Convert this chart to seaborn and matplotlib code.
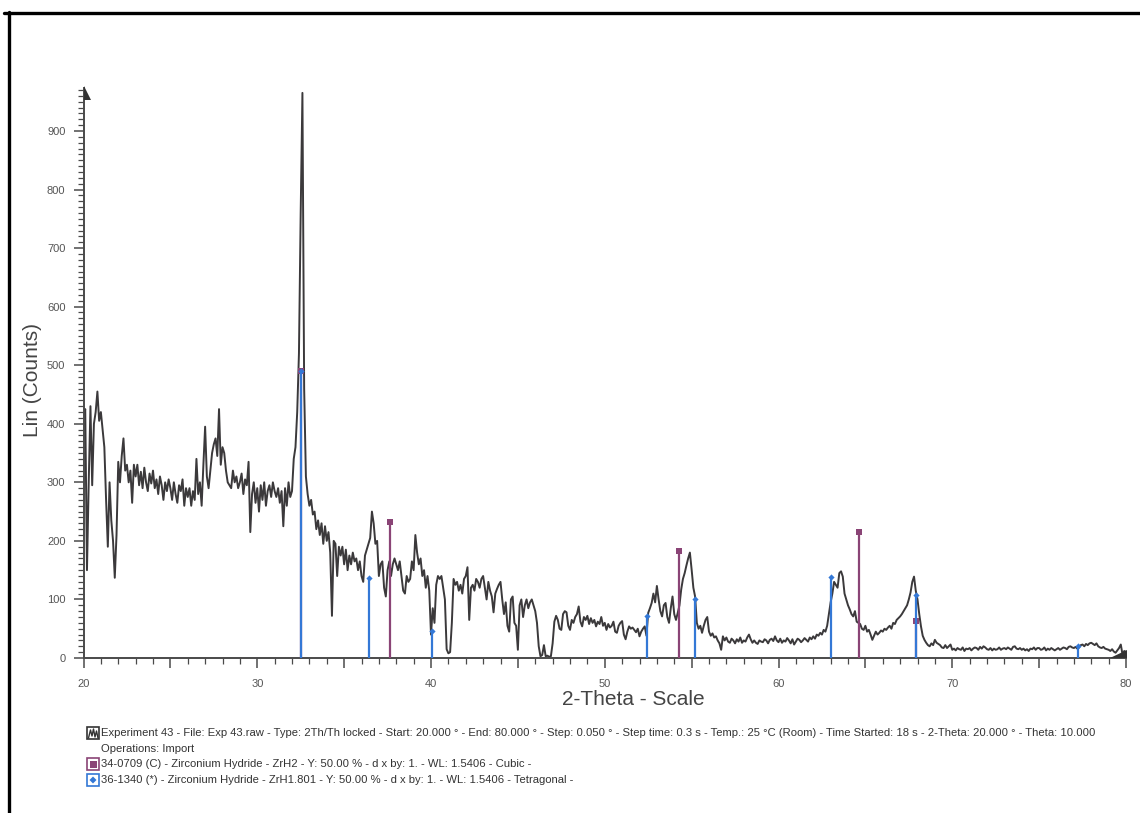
import numpy as np
import pandas as pd
import matplotlib
matplotlib.use("Agg")
import matplotlib.pyplot as plt
from matplotlib.patches import Polygon, Rectangle
from matplotlib.lines import Line2D
from matplotlib.ticker import MultipleLocator, FuncFormatter
import seaborn as sns

# Diffractogram: 2-theta from 20 to 80 degrees, 0.1 degree spacing
two_theta_start = 20.0
two_theta_step = 0.1
counts = [
    410, 425, 150, 300, 430, 295, 400, 420, 455, 405,   # 20
    420, 390, 360, 270, 190, 300, 235, 200, 137, 210,   # 21
    335, 300, 345, 375, 320, 330, 300, 320, 265, 330,   # 22
    310, 330, 295, 318, 290, 325, 300, 285, 315, 298,   # 23
    320, 290, 305, 280, 310, 295, 270, 300, 285, 305,   # 24
    290, 270, 300, 280, 265, 295, 285, 305, 260, 290,   # 25
    275, 290, 260, 285, 270, 340, 280, 300, 260, 330,   # 26
    395, 310, 290, 320, 350, 365, 375, 345, 425, 330,   # 27
    360, 350, 320, 300, 295, 290, 320, 300, 310, 290,   # 28
    300, 315, 280, 305, 295, 335, 215, 280, 300, 265,   # 29
    290, 250, 295, 270, 300, 260, 285, 295, 275, 300,   # 30
    285, 275, 290, 265, 285, 225, 290, 260, 300, 275,   # 31
    285, 340, 360, 420, 520, 760, 965, 460, 310, 280,   # 32
    260, 270, 245, 250, 220, 235, 210, 230, 195, 225,   # 33
    200, 215, 180, 72, 200, 195, 140, 190, 175, 190,    # 34
    160, 185, 150, 175, 160, 180, 165, 170, 150, 165,   # 35
    140, 130, 175, 185, 195, 205, 250, 230, 195, 200,   # 36
    140, 160, 165, 120, 105, 150, 165, 140, 160, 170,   # 37
    160, 150, 165, 140, 115, 110, 140, 130, 135, 165,   # 38
    150, 210, 180, 160, 170, 140, 150, 120, 140, 115,   # 39
    40, 85, 60, 125, 140, 135, 140, 120, 100, 15,       # 40
    8, 10, 60, 135, 125, 130, 115, 125, 110, 135,       # 41
    140, 155, 65, 120, 125, 115, 135, 130, 120, 135,    # 42
    140, 120, 100, 130, 115, 105, 78, 110, 118, 125,    # 43
    130, 100, 75, 95, 55, 45, 100, 105, 60, 55,         # 44
    14, 90, 100, 70, 90, 100, 85, 95, 100, 90,          # 45
    80, 60, 20, 3, 5, 22, 3, 4, 2, 3,                   # 46
    25, 62, 72, 65, 50, 48, 75, 80, 78, 55,             # 47
    48, 65, 60, 70, 75, 88, 62, 54, 70, 65,             # 48
    72, 58, 68, 60, 65, 54, 62, 58, 70, 55,             # 49
    60, 48, 58, 52, 55, 62, 45, 43, 55, 60,             # 50
    63, 40, 32, 45, 54, 50, 52, 48, 44, 50,             # 51
    37, 45, 50, 54, 38, 77, 85, 94, 110, 95,            # 52
    123, 100, 80, 71, 90, 94, 70, 60, 85, 105,          # 53
    75, 65, 77, 90, 117, 135, 145, 158, 170, 180,       # 54
    151, 120, 105, 60, 50, 55, 43, 55, 65, 70,          # 55
    45, 38, 42, 35, 37, 30, 25, 14, 37, 30,             # 56
    35, 28, 26, 33, 30, 25, 32, 28, 35, 26,             # 57
    30, 28, 35, 40, 32, 26, 30, 26, 24, 30,             # 58
    28, 27, 32, 30, 25, 31, 33, 29, 37, 30,             # 59
    27, 33, 26, 30, 28, 34, 30, 25, 32, 23,             # 60
    28, 33, 31, 27, 30, 34, 31, 28, 35, 32,             # 61
    37, 33, 40, 38, 43, 40, 48, 45, 55, 75,             # 62
    95, 110, 130, 125, 120, 145, 148, 139, 110, 100,    # 63
    90, 83, 75, 71, 80, 62, 60, 58, 50, 48,             # 64
    55, 45, 48, 40, 31, 38, 45, 40, 43, 47,             # 65
    45, 50, 48, 52, 55, 50, 60, 58, 65, 68,             # 66
    71, 75, 80, 85, 90, 100, 112, 130, 139, 115,        # 67
    100, 75, 54, 38, 31, 26, 22, 20, 25, 22,            # 68
    31, 26, 24, 22, 18, 17, 22, 17, 20, 23,             # 69
    14, 16, 13, 17, 15, 14, 18, 12, 16, 15,             # 70
    17, 13, 16, 18, 17, 14, 19, 16, 20, 18,             # 71
    15, 14, 17, 13, 16, 14, 15, 18, 14, 16,             # 72
    17, 15, 18, 16, 14, 19, 20, 16, 15, 17,             # 73
    14, 16, 13, 15, 12, 16, 15, 18, 14, 17,             # 74
    17, 14, 15, 18, 13, 16, 14, 17, 15, 13,             # 75
    15, 17, 14, 16, 18, 17, 15, 19, 20, 18,             # 76
    17, 19, 16, 18, 22, 23, 20, 24, 22, 25,             # 77
    26, 24, 22, 25, 20, 18, 17, 19, 16, 15,             # 78
    14, 12, 15, 11, 9, 13, 17, 23, 6, 12,               # 79
    10,                                                 # 80
]

# Reference pattern 34-0709, ZrH2 (cubic)
zrh2_two_theta = [32.50, 37.64, 54.26, 64.64, 67.90]
zrh2_intensity = [490, 232, 182, 215, 64]

# Reference pattern 36-1340, ZrH1.801 (tetragonal)
zrh1801_two_theta = [32.52, 36.43, 40.06, 52.42, 55.20, 63.00, 67.92, 77.22]
zrh1801_intensity = [490, 136, 46, 71, 100, 138, 108, 21]

x_ticks_labelled = [20, 30, 40, 50, 60, 70, 80]

legend_lines = [
    "Experiment 43 - File: Exp 43.raw - Type: 2Th/Th locked - Start: 20.000 \u00b0 - End: 80.000 \u00b0 - "
    "Step: 0.050 \u00b0 - Step time: 0.3 s - Temp.: 25 \u00b0C (Room) - Time Started: 18 s - "
    "2-Theta: 20.000 \u00b0 - Theta: 10.000",
    "Operations: Import",
    "34-0709 (C) - Zirconium Hydride - ZrH2 - Y: 50.00 % - d x by: 1. - WL: 1.5406 - Cubic -",
    "36-1340 (*) - Zirconium Hydride - ZrH1.801 - Y: 50.00 % - d x by: 1. - WL: 1.5406 - Tetragonal -",
]

PURPLE = "#8a4476"
BLUE = "#3478d6"
TRACE = "#3b393b"
AXIS = "#4a4a4a"

sns.set_style("ticks")
plt.rcParams["font.family"] = ["Liberation Sans", "DejaVu Sans"]

W, H = 1140, 813
fig = plt.figure(figsize=(W / 100, H / 100), dpi=100)
fig.patch.set_facecolor("white")


def px(x, y):
    """Pixel position (from top-left) to figure fraction."""
    return x / W, 1 - y / H


ax_left, ax_right, ax_bottom, ax_top = 83.5, 1126, 658, 88
ax = fig.add_axes([ax_left / W, 1 - ax_bottom / H,
                   (ax_right - ax_left) / W, (ax_bottom - ax_top) / H])
ax.set_facecolor("white")

two_theta = np.round(two_theta_start + two_theta_step * np.arange(len(counts)), 2)
df = pd.DataFrame({"two_theta": two_theta, "counts": counts})

sns.lineplot(data=df, x="two_theta", y="counts", ax=ax, color=TRACE,
             linewidth=1.4, estimator=None, sort=False, zorder=2)

# Reference stick patterns
ax.vlines(zrh2_two_theta, 0, zrh2_intensity, color=PURPLE, linewidth=1.6, zorder=3)
sns.scatterplot(x=zrh2_two_theta, y=zrh2_intensity, ax=ax, color=PURPLE, marker="s",
                s=22, linewidth=0, zorder=4)
ax.vlines(zrh1801_two_theta, 0, zrh1801_intensity, color=BLUE, linewidth=1.6, zorder=5)
sns.scatterplot(x=zrh1801_two_theta, y=zrh1801_intensity, ax=ax, color=BLUE, marker="D",
                s=10, linewidth=0, zorder=6)

ax.set_xlim(20, 80)
ax.set_ylim(0, (ax_bottom - ax_top) / 0.5856)
ax.set_xlabel("")
ax.set_ylabel("")

for side in ("top", "right"):
    ax.spines[side].set_visible(False)
for side in ("left", "bottom"):
    ax.spines[side].set_color(AXIS)
    ax.spines[side].set_linewidth(1.4)

ax.xaxis.set_major_locator(MultipleLocator(5))
ax.xaxis.set_minor_locator(MultipleLocator(1))
ax.xaxis.set_major_formatter(FuncFormatter(
    lambda v, p: f"{int(round(v))}" if int(round(v)) in x_ticks_labelled else ""))
ax.yaxis.set_major_locator(MultipleLocator(100))
ax.yaxis.set_minor_locator(MultipleLocator(10))

ax.tick_params(axis="both", which="major", direction="out", length=7, width=1.1,
               color=AXIS, labelcolor="#555555", labelsize=8)
ax.tick_params(axis="both", which="minor", direction="out", length=4, width=0.9, color=AXIS)
ax.tick_params(axis="x", which="major", pad=8)
ax.tick_params(axis="y", which="major", pad=6)

# Arrow heads at the axis ends
fig.add_artist(Polygon([px(83.5, 86), px(83.5, 100), px(91, 100)], closed=True,
                       transform=fig.transFigure, facecolor="#333333", edgecolor="none"))
fig.add_artist(Polygon([px(1110, 658), px(1127, 658), px(1127, 650)], closed=True,
                       transform=fig.transFigure, facecolor="#333333", edgecolor="none"))

# Axis titles
fig.text(*px(33, 380), "Lin (Counts)", rotation=90, ha="center", va="center",
         fontsize=15, color="#444444")
fig.text(*px(633, 699), "2-Theta - Scale", ha="center", va="center",
         fontsize=15, color="#444444")

# Page frame
fig.add_artist(Line2D([px(4, 0)[0], 1], [px(0, 13)[1]] * 2, color="black", lw=2.4,
                      transform=fig.transFigure))
fig.add_artist(Line2D([px(9, 0)[0]] * 2, [0, px(0, 12)[1]], color="black", lw=2.4,
                      transform=fig.transFigure))

# Legend block
text_rows = [733, 749, 764, 780]
for line, y in zip(legend_lines, text_rows):
    fig.text(*px(101, y), line, ha="left", va="center", fontsize=8.15, color="#333333")


def box(x0, y0, size, edge):
    x, y = px(x0, y0 + size)
    fig.add_artist(Rectangle((x, y), size / W, size / H, transform=fig.transFigure,
                             facecolor="white", edgecolor=edge, linewidth=1.2))


# scan icon
box(87, 727, 12, "#333333")
zig_x = [88.5, 90.5, 92, 93.5, 95, 96.5, 98]
zig_y = [738, 730, 736, 729, 737, 731, 738]
fig.add_artist(Line2D([px(a, 0)[0] for a in zig_x], [px(0, b)[1] for b in zig_y],
                      color="#333333", lw=1.0, transform=fig.transFigure))
# cubic reference icon
box(87, 758, 12, PURPLE)
ix, iy = px(89.5, 767.5)
fig.add_artist(Rectangle((ix, iy), 7 / W, 7 / H, transform=fig.transFigure,
                         facecolor=PURPLE, edgecolor="none"))
# tetragonal reference icon
box(87, 774, 12, BLUE)
cx, cy = 93, 780
fig.add_artist(Polygon([px(cx, cy - 3.5), px(cx + 3.5, cy), px(cx, cy + 3.5), px(cx - 3.5, cy)],
                       closed=True, transform=fig.transFigure, facecolor=BLUE, edgecolor="none"))

fig.savefig("out.png", dpi=100, facecolor="white")
